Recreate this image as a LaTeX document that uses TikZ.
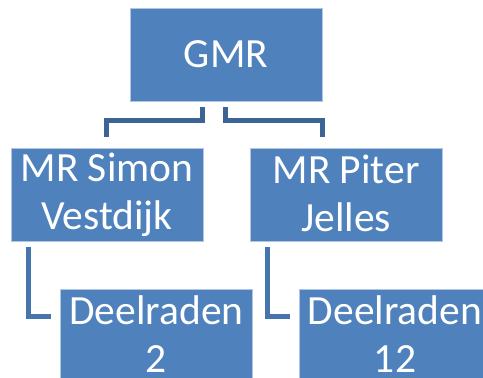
\documentclass[tikz,border=0pt]{standalone}
\usepackage{fontspec}
\setmainfont{Carlito}
\usetikzlibrary{positioning}
\definecolor{boxblue}{HTML}{4F81BD}
\definecolor{linkdark}{HTML}{3C6494}
\definecolor{linklight}{HTML}{4675AE}
\tikzset{
	box/.style={fill=boxblue, draw=boxblue!45!white, line width=0.6pt,
		minimum width=192pt, minimum height=93pt, inner sep=0pt,
		align=center, text=white, font=\fontsize{41.5}{48}\selectfont},
	link/.style={line width=5pt, line join=miter}
}
\newcommand{\st}{\rule[-4pt]{0pt}{33pt}}

\begin{document}
\begin{tikzpicture}[x=1pt,y=-1pt]
\useasboundingbox (0,0) rectangle (483,378);
\clip (0,0) rectangle (483,378); % la page coupe le bas

%Cadres
\node[box] (gmr) at (226,54.5) {\st GMR};
\node[box] (simon) at (107,194.5) {\st MR Simon\\\st Vestdijk};
\node[box] (piter) at (346,194.5) {\st MR Piter\\\st Jelles};
\node[box] (dr2) at (156.5,335.5) {\st Deelraden\\\st 2};
\node[box] (dr12) at (395,335.5) {\st Deelraden\\\st 12};

%Points des liens
\coordinate (gL) at (202.5,107);
\coordinate (gR) at (225.5,107);
\coordinate (sT) at (106.5,137);
\coordinate (pT) at (322.5,137);
\coordinate (sB) at (28,247);
\coordinate (pB) at (267.5,247);
\coordinate (dL) at (51,316.5);
\coordinate (dJ) at (290,316.5);

%Liens
\draw[link,linkdark] (gL) -- ++(0,13) -| (sT);
\draw[link,linkdark] (gR) -- ++(0,13) -| (pT);
\draw[link,linklight] (sB) |- (dL);
\draw[link,linklight] (pB) |- (dJ);

\end{tikzpicture}
\end{document}
